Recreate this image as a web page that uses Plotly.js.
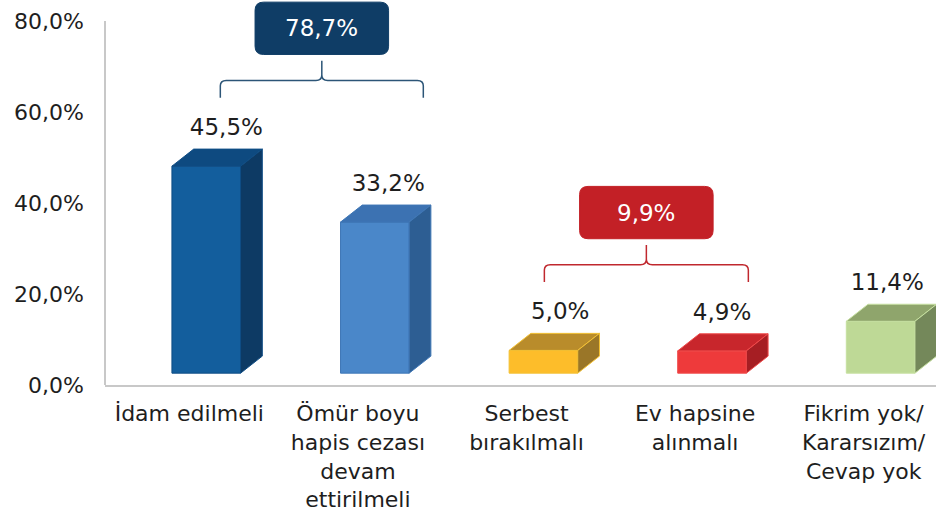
<!DOCTYPE html>
<html>
<head>
<meta charset="utf-8">
<script src="https://cdn.plot.ly/plotly-3.0.1.min.js"></script>
<style>html,body{margin:0;padding:0;background:#fff;}#chart{width:936px;height:515px;}</style>
</head>
<body>
<div id="chart"></div>
<script>
// ---- data ----
const categories = ["İdam edilmeli", "Ömür boyu<br>hapis cezası<br>devam<br>ettirilmeli", "Serbest<br>bırakılmalı", "Ev hapsine<br>alınmalı", "Fikrim yok/<br>Kararsızım/<br>Cevap yok"];
const values = [45.5, 33.2, 5.0, 4.9, 11.4];
const yTickVals = [0, 20, 40, 60, 80];
const yTickText = ["0,0%", "20,0%", "40,0%", "60,0%", "80,0%"];
const groupMembers = [[0, 1], [2, 3]];
const groupTotals = [78.7, 9.9];

// ---- styles ----
const frontColors = ["#135e9d", "#4a87c9", "#fdbd2a", "#ee3a3b", "#bed996"];
const topColors   = ["#0e4a80", "#3c72b2", "#b98c2b", "#c8262c", "#8fa56c"];
const sideColors  = ["#0d3a64", "#2d5e93", "#9a7628", "#a61e23", "#74885a"];
const edgeColors  = ["#0f4d85", "#3f77b6", "#f3c134", "#f04a4a", "#c6e0a0"];
const groupColors = ["#0f3d66", "#c32026"];
const braceColors = ["#2c5577", "#c0282e"];
const braceLeftOff = [0.184, 0.106];
const braceRightOff = [0.388, 0.316];
const labelShift = [0.22, 0.18, 0.2, 0.16, 0.14];

const BASE = 2.6, DX = 0.129, DY = 3.75, OFF = -0.103, W = 0.407;
const LABEL_DY = 4.4;
const FONT = "DejaVu Sans";
const TXT = '#1e1e1e';
const fmt = v => v.toFixed(1).replace('.', ',') + '%';

const xs = values.map((v, i) => i);
const traces = [];
// front faces
traces.push({
  type: 'bar', x: xs, y: values, base: values.map(() => BASE),
  width: values.map(() => W), offset: values.map(() => OFF),
  marker: {color: frontColors, line: {color: edgeColors, width: 1}},
  hoverinfo: 'skip', showlegend: false
});
// top and side faces
values.forEach((v, i) => {
  const xl = i + OFF, xr = i + OFF + W, T = BASE + v, B = BASE;
  traces.push({
    type: 'scatter', mode: 'lines', fill: 'toself',
    x: [xl, xr, xr + DX, xl + DX, xl], y: [T, T, T + DY, T + DY, T],
    fillcolor: topColors[i], line: {color: edgeColors[i], width: 1},
    hoverinfo: 'skip', showlegend: false
  });
  traces.push({
    type: 'scatter', mode: 'lines', fill: 'toself',
    x: [xr, xr + DX, xr + DX, xr, xr], y: [B, B + DY, T + DY, T, B],
    fillcolor: sideColors[i], line: {color: edgeColors[i], width: 1},
    hoverinfo: 'skip', showlegend: false
  });
});
// value labels
traces.push({
  type: 'scatter', mode: 'text', x: xs.map(i => i + labelShift[i]),
  y: values.map(v => BASE + v + DY + LABEL_DY),
  text: values.map(fmt), textposition: 'middle center',
  textfont: {family: FONT, size: 23, color: TXT},
  hoverinfo: 'skip', showlegend: false, cliponaxis: false
});

const shapes = [];
const annotations = [];
// y axis line
shapes.push({type: 'line', xref: 'paper', yref: 'y', x0: 0, x1: 0, y0: 0, y1: 80, line: {color: '#c8c8c8', width: 2}});

groupMembers.forEach((g, k) => {
  const L = g[0] + braceLeftOff[k], R = g[g.length - 1] + braceRightOff[k], C = (L + R) / 2;
  const maxV = Math.max(...g.map(i => values[i]));
  const H = BASE + maxV + DY + LABEL_DY + 10.7;
  const rx = 0.035, ry = 1.2, down = 3.8, up = 4.3;
  const p = `M${L},${H - down} L${L},${H - ry} Q${L},${H} ${L + rx},${H} L${C - rx},${H} Q${C},${H} ${C},${H + ry} L${C},${H + up} ` +
            `M${R},${H - down} L${R},${H - ry} Q${R},${H} ${R - rx},${H} L${C + rx},${H} Q${C},${H} ${C},${H + ry}`;
  shapes.push({type: 'path', xref: 'x', yref: 'y', path: p, line: {color: braceColors[k], width: 1.5}, layer: 'above'});
  // rounded box
  const bw = 0.792, bh = 11.5;
  const x0 = C - bw / 2, x1 = C + bw / 2, y0 = H + 5.7, y1 = y0 + bh;
  const cx = 0.05, cy = 1.8;
  const box = `M${x0 + cx},${y0} L${x1 - cx},${y0} Q${x1},${y0} ${x1},${y0 + cy} L${x1},${y1 - cy} Q${x1},${y1} ${x1 - cx},${y1} ` +
              `L${x0 + cx},${y1} Q${x0},${y1} ${x0},${y1 - cy} L${x0},${y0 + cy} Q${x0},${y0} ${x0 + cx},${y0} Z`;
  shapes.push({type: 'path', xref: 'x', yref: 'y', path: box, fillcolor: groupColors[k], line: {color: groupColors[k], width: 1}, layer: 'above'});
  annotations.push({xref: 'x', yref: 'y', x: C, y: (y0 + y1) / 2, text: fmt(groupTotals[k]), showarrow: false,
    font: {family: FONT, size: 23, color: '#ffffff'}, xanchor: 'center', yanchor: 'middle'});
});

const layout = {
  width: 936, height: 515,
  margin: {l: 105, r: 0, t: 0, b: 130},
  paper_bgcolor: '#ffffff', plot_bgcolor: '#ffffff',
  showlegend: false, hovermode: false,
  xaxis: {
    range: [-0.5, 4.429], tickvals: xs, ticktext: categories,
    showline: true, linecolor: '#c8c8c8', linewidth: 2,
    showgrid: false, zeroline: false, ticks: '', ticklabelstandoff: 8,
    tickfont: {family: FONT, size: 22, color: TXT}, fixedrange: true
  },
  yaxis: {
    range: [0, 84.62], tickvals: yTickVals, ticktext: yTickText,
    showline: false, showgrid: false, zeroline: false, ticks: '', ticklabelstandoff: 20,
    tickfont: {family: FONT, size: 22, color: TXT}, fixedrange: true
  },
  shapes: shapes, annotations: annotations
};

Plotly.newPlot('chart', traces, layout, {displayModeBar: false, staticPlot: true});
</script>
</body>
</html>
